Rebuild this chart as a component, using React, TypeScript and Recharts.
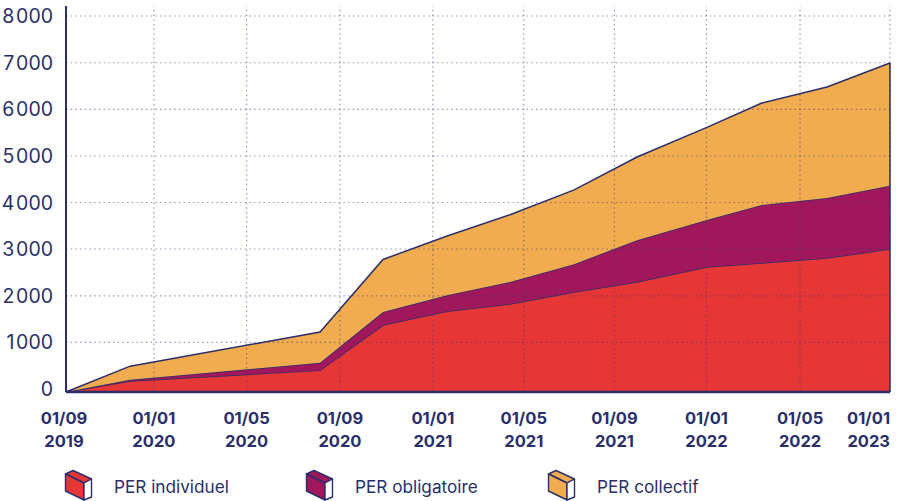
import React from "react";
import { AreaChart, Area, XAxis, YAxis, ReferenceLine } from "recharts";

// x is a time-like position along the axis (Sept 2019 = 0, Jan 2023 = 36)
const xValues = [0, 2.8, 11.1, 13.85, 16.65, 19.4, 22.2, 24.95, 28.0, 30.4, 33.25, 36];
const individuel = [0, 235, 460, 1425, 1720, 1870, 2130, 2340, 2660, 2745, 2850, 3040];
const obligatoire = [0, 25, 160, 275, 340, 470, 590, 890, 1000, 1235, 1280, 1350];
const collectif = [0, 290, 655, 1120, 1260, 1430, 1580, 1770, 1970, 2170, 2360, 2610];

const xTicks = [0, 3.84, 7.89, 11.97, 16.03, 20, 23.96, 27.98, 32.07, 36];
const xTickLabels = [
  ["01/09", "2019"], ["01/01", "2020"], ["01/05", "2020"], ["01/09", "2020"], ["01/01", "2021"],
  ["01/05", "2021"], ["01/09", "2021"], ["01/01", "2022"], ["01/05", "2022"], ["01/01", "2023"],
];
const yTicks = [60, 1057, 2045, 3043, 4032, 5021, 6013, 7006, 8000];
const yTickLabels = ["0", "1\u200a000", "2\u200a000", "3\u200a000", "4\u200a000", "5\u200a000", "6\u200a000", "7\u200a000", "8\u200a000"];

const seriesNames = ["PER individuel", "PER obligatoire", "PER collectif"];
const seriesColors = ["#E73636", "#A0175C", "#F0AC4E"];
const navy = "#2A2F6B";
const gridColor = "rgba(50,52,120,0.5)";
const font = "Inter, 'Noto Sans', sans-serif";

const rows = xValues.map((x, i) => ({
  x,
  individuel: individuel[i],
  obligatoire: obligatoire[i],
  collectif: collectif[i],
}));

const XTick = (props: any) => {
  const { x, y, index } = props;
  const lab = xTickLabels[index];
  const last = index === xTickLabels.length - 1;
  const first = index === 0;
  const px = first ? x - 2 : x;
  return (
    <text x={px} y={y} textAnchor={last ? "end" : "middle"} fill={navy} fontFamily={font} fontWeight={700} fontSize={16.5}>
      <tspan x={px} dy={0}>{lab[0]}</tspan>
      <tspan x={px} dy={23}>{lab[1]}</tspan>
    </text>
  );
};

const YTick = (props: any) => {
  const { y, index } = props;
  return (
    <text x={53} y={y + 7} textAnchor="end" fill={navy} fontFamily={font} fontWeight={400} fontSize={19.5}>
      {yTickLabels[index]}
    </text>
  );
};

const Box = ({ color }: { color: string }) => (
  <svg width={30} height={33} viewBox="0 0 30 33" style={{ display: "block" }}>
    <path d="M1.5 5 L9 1.5 L27.5 10 L20 14 Z" fill={color} stroke={navy} strokeWidth={1.4} strokeLinejoin="round" />
    <path d="M1.5 5 L20 14 L20 31 L1.5 22 Z" fill={color} stroke={navy} strokeWidth={1.4} strokeLinejoin="round" />
    <path d="M20 14 L27.5 10 L27.5 28 L20 31 Z" fill="#fff" stroke={navy} strokeWidth={1.4} strokeLinejoin="round" />
  </svg>
);

const legendLeft = [64, 305, 547];
const legendText = [114, 355, 597];

export default function App() {
  return (
    <div style={{ position: "absolute", left: 0, top: 0, width: 900, height: 501, background: "#fff", overflow: "hidden" }}>
      <AreaChart
        width={900}
        height={461}
        data={rows}
        margin={{ top: 6, right: 10, bottom: 0, left: 0 }}
      >
        <XAxis
          dataKey="x"
          type="number"
          domain={[0, 36]}
          ticks={xTicks}
          interval={0}
          tick={<XTick />}
          tickLine={false}
          axisLine={false}
          height={69}
          tickMargin={26}
        />
        <YAxis
          type="number"
          domain={[0, 8213]}
          ticks={yTicks}
          interval={0}
          width={66}
          tick={<YTick />}
          tickLine={false}
          axisLine={{ stroke: navy, strokeWidth: 2 }}
        />
        <Area type="linear" dataKey="individuel" stackId="s" stroke={navy} strokeWidth={1.5} fill={seriesColors[0]} fillOpacity={1} isAnimationActive={false} />
        <Area type="linear" dataKey="obligatoire" stackId="s" stroke={navy} strokeWidth={1.5} fill={seriesColors[1]} fillOpacity={1} isAnimationActive={false} />
        <Area type="linear" dataKey="collectif" stackId="s" stroke={navy} strokeWidth={1.5} fill={seriesColors[2]} fillOpacity={1} isAnimationActive={false} />
        {yTicks.slice(1).map((v) => (
          <ReferenceLine key={"h" + v} y={v} stroke={gridColor} strokeDasharray="1.5 3.2" strokeWidth={1.2} />
        ))}
        {xTicks.slice(1).map((v) => (
          <ReferenceLine key={"v" + v} x={v} stroke={gridColor} strokeDasharray="1.5 3.2" strokeWidth={1.2} />
        ))}
        <ReferenceLine segment={[{ x: 36, y: 0 }, { x: 36, y: 7000 }]} stroke={navy} strokeWidth={1.5} />
        <ReferenceLine y={0} stroke={navy} strokeWidth={2.5} />
      </AreaChart>
      {seriesNames.map((n, i) => (
        <React.Fragment key={n}>
          <div style={{ position: "absolute", left: legendLeft[i], top: 469 }}><Box color={seriesColors[i]} /></div>
          <div style={{ position: "absolute", left: legendText[i], top: 476, fontFamily: font, fontSize: 17.2, lineHeight: "22px", color: navy, whiteSpace: "nowrap" }}>{n}</div>
        </React.Fragment>
      ))}
    </div>
  );
}
